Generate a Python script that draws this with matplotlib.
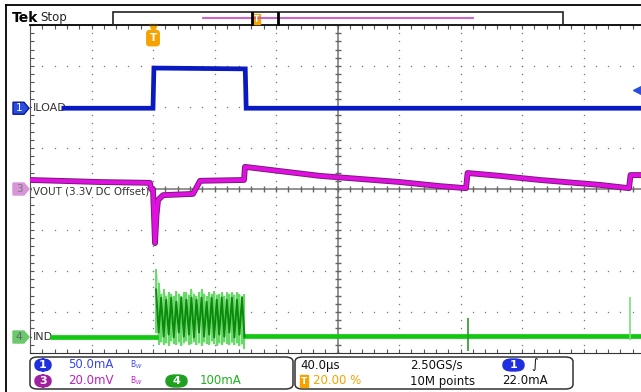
import numpy as np
import matplotlib.pyplot as plt
import matplotlib.transforms as mtransforms
from matplotlib.patches import FancyBboxPatch, Polygon, Rectangle
from matplotlib.lines import Line2D

W, H = 641, 392

# time in µs (40 µs/div, trigger at 20 %), vertical position in divisions
iload_t = [-58, 0, 0.6, 60, 60.6, 320]
iload_v = [1.97, 1.97, 2.95, 2.93, 1.97, 1.97]

vout_t = [-80, -34.5, -2, -1.3, 0, 1.3, 2.3, 3.3, 6.5, 26, 30.6, 59.2, 59.8,
          108.6, 160.6, 186.7, 203.6, 204.6, 225.7, 251.7, 290.7, 309.6, 310.6, 320]
vout_v = [0.22, 0.17, 0.15, 0.0, 0.0, -1.32, -0.63, -0.27, -0.15, -0.12, 0.2, 0.22, 0.54,
          0.32, 0.17, 0.07, 0.02, 0.39, 0.32, 0.22, 0.1, 0.02, 0.34, 0.34]

ind_pre_t = [-65.7, 1.8]
ind_pre_v = [-3.61, -3.61]
ind_post_t = [60, 320]
ind_post_v = [-3.58, -3.58]
# short glitches on the inductor current
spike_t = [204.6, 310.2]
spike_lo = [-3.95, -3.68]
spike_hi = [-3.15, -2.63]

# switching burst while the load is high
burst_top = [-1.95, -2.3, -2.55, -2.45, -2.6, -2.5, -2.55, -2.62, -2.48, -2.55,
             -2.6, -2.5, -2.52, -2.58, -2.45, -2.55, -2.6, -2.5, -2.45, -2.55,
             -2.6, -2.52, -2.55, -2.48, -2.58, -2.55, -2.5, -2.6, -2.52, -2.55,
             -2.5, -2.58, -2.52, -2.55, -2.6, -2.55]
burst_bot = [-3.5, -3.8, -3.72, -3.8, -3.75, -3.82, -3.7, -3.78, -3.8, -3.74,
             -3.82, -3.76, -3.7, -3.8, -3.78, -3.72, -3.8, -3.76, -3.82, -3.74,
             -3.78, -3.8, -3.7, -3.78, -3.82, -3.75, -3.8, -3.72, -3.78, -3.8,
             -3.74, -3.8, -3.76, -3.82, -3.78, -3.9]
burst_mid = [-2.45, -3.5, -2.65, -3.6, -2.7, -3.55, -2.65, -3.62, -2.75, -3.5,
             -2.65, -3.6, -2.7, -3.55, -2.65, -3.62, -2.7, -3.5, -2.65, -3.6,
             -2.75, -3.55, -2.65, -3.62, -2.7, -3.55, -2.65, -3.6, -2.7, -3.5,
             -2.65, -3.62, -2.7, -3.55, -2.65, -3.6]

trig_level = 22.0 / 50.0  # 22 mA at 50 mA/div

BLUE = '#0a1ac2'
MAG = '#e010e0'
GREEN = '#12c812'
ORANGE = '#f5a300'

fig = plt.figure(figsize=(W / 100, H / 100), dpi=100)
fig.patch.set_facecolor('white')
ax = fig.add_axes([30 / W, 1 - 353 / H, 615 / W, 328 / H])
ax.set_xlim(-80, 320)
ax.set_ylim(-4, 4)
ax.set_facecolor('white')

# graticule
gx, gy = np.meshgrid(np.arange(-80, 321, 40), np.arange(-4, 4.01, 0.2))
ax.plot(gx.ravel(), gy.ravel(), ls='none', marker='s', ms=0.9, mew=0, color='#777')
hx, hy = np.meshgrid(np.arange(-80, 321, 8), np.arange(-4, 4.01, 1))
ax.plot(hx.ravel(), hy.ravel(), ls='none', marker='s', ms=0.9, mew=0, color='#777')
ax.axhline(0, color='#8a8a8a', lw=1.3, zorder=1)
ax.axvline(120, color='#8a8a8a', lw=1.3, zorder=1)
ax.plot(np.full(41, 120), np.arange(-4, 4.01, 0.2), ls='none', marker='_', ms=5, color='#666')
ax.plot(np.arange(-80, 321, 8), np.zeros(51), ls='none', marker='|', ms=5, color='#666')

ax.set_xticks(np.arange(-80, 321, 8))
ax.set_yticks(np.arange(-4, 4.01, 0.2))
ax.tick_params(direction='in', length=3, color='#555', top=True, right=False,
               labelbottom=False, labelleft=False)
ax.spines['right'].set_visible(False)
ax.spines['left'].set_color('#555')
ax.spines['bottom'].set_color('#333')
ax.spines['top'].set_color('black')
ax.spines['top'].set_linewidth(1.3)

# traces
ax.plot(iload_t, iload_v, color=BLUE, lw=3.4, solid_joinstyle='miter', zorder=5)
ax.plot(vout_t, vout_v, color='#7a1a7a', lw=4.2, zorder=5)
ax.plot(vout_t, vout_v, color=MAG, lw=2.8, zorder=6)

bt = np.linspace(2, 59.5, len(burst_top))
ax.fill_between(bt, burst_bot, burst_top, color='#bdeebd', lw=0, zorder=4)
ax.vlines(bt, burst_bot, burst_top, color='#5fd65f', lw=1.3, zorder=5)
ax.plot(bt, burst_mid, color='#0b8a0b', lw=1.4, zorder=6)
ax.plot(ind_pre_t, ind_pre_v, color=GREEN, lw=3.4, zorder=5)
ax.plot(ind_post_t, ind_post_v, color=GREEN, lw=3.4, zorder=5)
ax.vlines(spike_t, spike_lo, spike_hi, color=['#2a9a2a', '#7ade7a'], lw=1.2, zorder=6)

# labels on the traces
tb = mtransforms.blended_transform_factory(ax.transAxes, ax.transData)
lab = dict(transform=tb, color='#333', va='center', ha='left', zorder=4.5,
           bbox=dict(boxstyle='square,pad=0.05', fc='white', ec='none'))
ax.text(3 / 615, iload_v[0], 'ILOAD', fontsize=8, **lab)
ax.text(3 / 615, -0.05, 'VOUT (3.3V DC Offset)', fontsize=7.4, **lab)
ax.text(3 / 615, ind_pre_v[0], 'IND', fontsize=8, **lab)


def ch_marker(y, num, face, edge, tc):
    xs = [-17 / 615, -6 / 615, -1 / 615, -6 / 615, -17 / 615]
    d = 6 / 41
    ys = [y + d, y + d, y, y - d, y - d]
    ax.add_patch(Polygon(list(zip(xs, ys)), closed=True, transform=tb, clip_on=False,
                         facecolor=face, edgecolor=edge, lw=1, zorder=8))
    ax.text(-11 / 615, y, num, transform=tb, fontsize=7.5, color=tc, ha='center',
            va='center', clip_on=False, zorder=9)


ch_marker(iload_v[0], '1', '#2a4ee0', '#0a1a90', 'white')
ch_marker(0, '3', '#d896d8', '#d896d8', '#777')
ch_marker(ind_pre_v[0], '4', '#6cc86c', '#6cc86c', '#666')

# trigger level and trigger position markers
ax.plot([ax.get_xlim()[0] + 400 * 608 / 615], [iload_v[0] + trig_level], marker='<',
        ms=7, color='#2a4ee0', clip_on=False, zorder=8)
ax.plot([0], [3.93], marker='v', ms=6, color=ORANGE, clip_on=False, zorder=8)
ax.text(0, 3.68, 'T', fontsize=7.5, color='white', weight='bold', ha='center', va='center',
        bbox=dict(boxstyle='round,pad=0.25', fc=ORANGE, ec=ORANGE), zorder=9)


def fx(px):
    return px / W


def fy(py):
    return 1 - py / H


# frame lines
fig.add_artist(Line2D([fx(6), fx(6)], [fy(5), fy(392)], color='black', lw=1.3))
fig.add_artist(Line2D([fx(6), fx(641)], [fy(5), fy(5)], color='black', lw=1.3))

# header
fig.text(fx(12), fy(18), 'Tek', fontsize=10, weight='bold', va='center', ha='left')
fig.text(fx(40), fy(18), 'Stop', fontsize=8.5, va='center', ha='left', color='#222')
fig.add_artist(Rectangle((fx(113), fy(25)), fx(563) - fx(113), fy(12) - fy(25),
                         fill=False, ec='#222', lw=1.2))
fig.add_artist(Line2D([fx(203), fx(473)], [fy(18), fy(18)], color='#d050d0', lw=1.3))
for bx in (252, 278):
    fig.add_artist(Line2D([fx(bx), fx(bx)], [fy(13), fy(24)], color='black', lw=2))
fig.add_artist(Rectangle((fx(253), fy(24)), fx(260) - fx(253), fy(14) - fy(24),
                         fc=ORANGE, ec=ORANGE))
fig.text(fx(256.5), fy(19.5), 'T', fontsize=5.5, color='white', weight='bold',
         ha='center', va='center')

# readout boxes
for x0, x1 in ((30, 293), (295, 573)):
    fig.add_artist(FancyBboxPatch((fx(x0), fy(389)), fx(x1) - fx(x0), fy(357) - fy(389),
                                  boxstyle='round,pad=0,rounding_size=0.012',
                                  fc='white', ec='#333', lw=1.1))


def pill(x0, x1, py, num, col):
    fig.add_artist(FancyBboxPatch((fx(x0), fy(py + 6)), fx(x1) - fx(x0), fy(py - 6) - fy(py + 6),
                                  boxstyle='round,pad=0,rounding_size=0.014',
                                  fc=col, ec=col))
    fig.text(fx((x0 + x1) / 2), fy(py), num, fontsize=8, color='white', weight='bold',
             ha='center', va='center')


r1, r2 = 365, 381
pill(35, 51, r1, '1', '#1f2fe0')
pill(35, 51, r2, '3', '#a020a0')
pill(166, 187, r2, '4', '#20a020')
pill(503, 524, r1, '1', '#1f2fe0')

rt = dict(fontsize=8.5, va='center', ha='left')
fig.text(fx(68), fy(r1), '50.0mA', color='#3848e8', **rt)
fig.text(fx(68), fy(r2), '20.0mV', color='#c020c0', **rt)
fig.text(fx(130), fy(r1), 'B$_W$', color='#3848e8', fontsize=5.5, va='center', ha='left')
fig.text(fx(130), fy(r2), 'B$_W$', color='#c020c0', fontsize=5.5, va='center', ha='left')
fig.text(fx(200), fy(r2), '100mA', color='#20b020', **rt)

fig.text(fx(300), fy(r1), '40.0µs', color='#111', **rt)
fig.text(fx(410), fy(r1), '2.50GS/s', color='#111', **rt)
fig.text(fx(531), fy(r1), '∫', color='#111', fontsize=9, va='center', ha='left')
fig.add_artist(Rectangle((fx(300), fy(387)), fx(308) - fx(300), fy(375) - fy(387),
                         fc=ORANGE, ec=ORANGE))
fig.text(fx(304), fy(r2), 'T', fontsize=6.5, color='white', weight='bold', ha='center', va='center')
fig.text(fx(313), fy(r2), '20.00 %', color=ORANGE, **rt)
fig.text(fx(410), fy(r2), '10M points', color='#111', **rt)
fig.text(fx(502), fy(r2), '22.0mA', color='#111', **rt)

fig.savefig('out.png', dpi=100)
